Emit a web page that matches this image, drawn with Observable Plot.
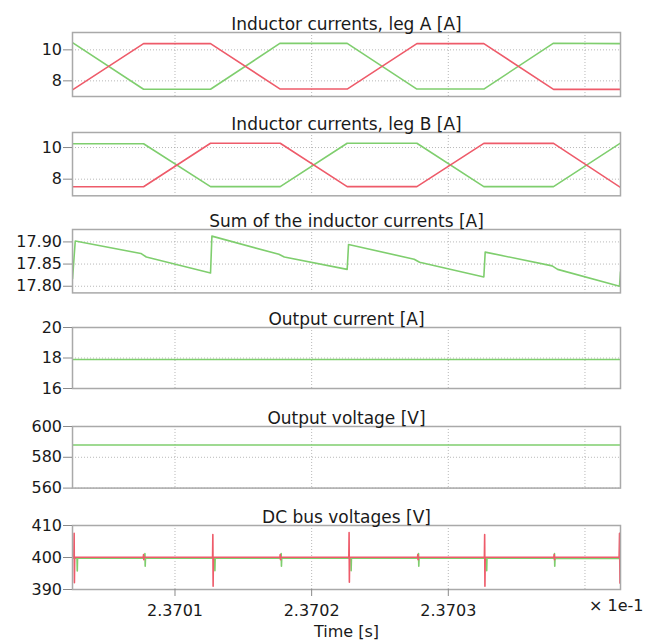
<!DOCTYPE html>
<html>
<head>
<meta charset="utf-8">
<script src="https://cdn.jsdelivr.net/npm/d3@7"></script>
<script src="https://cdn.jsdelivr.net/npm/@observablehq/plot@0.6"></script>
<style>
  html, body { margin: 0; padding: 0; background: #fff; }
  #chart { position: relative; width: 656px; height: 641px; overflow: hidden; background: #fff; }
  #chart svg { position: absolute; left: 0; overflow: visible; background: transparent; }
</style>
</head>
<body>
<div id="chart"></div>
<script>
// ---------- data ----------
const xDomain = [2.370025, 2.370426];
const xTicks = [2.3701, 2.3702, 2.3703, 2.3704];
const xTickLabels = ["2.3701", "2.3702", "2.3703", ""];

const titles = [
  "Inductor currents, leg A [A]",
  "Inductor currents, leg B [A]",
  "Sum of the inductor currents [A]",
  "Output current [A]",
  "Output voltage [V]",
  "DC bus voltages [V]"
];

// leg A / leg B inductor currents
const legTime = [2.370025, 2.370077, 2.370126, 2.370177, 2.370226, 2.370277, 2.370326, 2.370377, 2.370426];
const legAGreen = [10.47, 7.46, 7.46, 10.43, 10.42, 7.47, 7.47, 10.43, 10.40];
const legARed   = [7.42, 10.40, 10.40, 7.47, 7.47, 10.40, 10.40, 7.45, 7.45];
const legBGreen = [10.24, 10.24, 7.53, 7.53, 10.27, 10.27, 7.53, 7.53, 10.28];
const legBRed   = [7.52, 7.52, 10.27, 10.27, 7.53, 7.53, 10.26, 10.26, 7.48];

// sum of inductor currents
const sumTime = [2.370025, 2.370027, 2.370075, 2.370079, 2.370126, 2.370127, 2.370176, 2.370180,
                 2.370226, 2.370227, 2.370275, 2.370279, 2.370326, 2.370327, 2.370376, 2.370380,
                 2.3704253, 2.370426];
const sumValue = [17.817, 17.902, 17.874, 17.866, 17.830, 17.913, 17.872, 17.866,
                  17.838, 17.894, 17.861, 17.854, 17.821, 17.877, 17.846, 17.838,
                  17.800, 17.832];

// output current / voltage
const outTime = [2.370025, 2.370426];
const outCurrent = [17.9, 17.9];
const outVoltage = [588, 588];

// DC bus voltages
const busRedTime = [2.370025, 2.3700260, 2.3700262, 2.3700264, 2.3700266,
  2.3700768, 2.3700770, 2.3700772, 2.3700774,
  2.3701275, 2.3701277, 2.3701279, 2.3701281,
  2.3701768, 2.3701770, 2.3701772, 2.3701774,
  2.3702272, 2.3702274, 2.3702276, 2.3702278,
  2.3702775, 2.3702777, 2.3702779, 2.3702781,
  2.3703264, 2.3703266, 2.3703268, 2.3703270,
  2.3703773, 2.3703775, 2.3703777, 2.3703779,
  2.3704250, 2.3704253, 2.3704256, 2.370426];
const busRedValue = [400.1, 400.1, 407.6, 392.1, 400.1,
  400.1, 400.9, 399.3, 400.1,
  400.1, 407.2, 391.0, 400.1,
  400.1, 400.9, 399.3, 400.1,
  400.1, 407.8, 392.3, 400.1,
  400.1, 400.9, 399.3, 400.1,
  400.1, 407.2, 391.0, 400.1,
  400.1, 400.9, 399.3, 400.1,
  400.1, 407.6, 392.0, 396.0];
const busGreenTime = [2.370025, 2.3700283, 2.3700285, 2.3700287,
  2.3700778, 2.3700780, 2.3700782, 2.3700784,
  2.3701290, 2.3701292, 2.3701294,
  2.3701775, 2.3701777, 2.3701779, 2.3701781,
  2.3702287, 2.3702289, 2.3702291,
  2.3702780, 2.3702782, 2.3702784, 2.3702786,
  2.3703279, 2.3703281, 2.3703283,
  2.3703775, 2.3703777, 2.3703779, 2.3703781,
  2.370426];
const busGreenValue = [399.8, 399.8, 395.8, 399.8,
  399.8, 401.2, 397.3, 399.8,
  399.8, 395.9, 399.8,
  399.8, 401.2, 397.3, 399.8,
  399.8, 395.9, 399.8,
  399.8, 401.2, 397.3, 399.8,
  399.8, 395.9, 399.8,
  399.8, 401.2, 397.3, 399.8,
  399.7];

const yDomains = [[6.99, 11.12], [6.95, 10.95], [17.785, 17.928], [16, 20], [560, 600], [390, 410]];
const yTicks = [[8, 10], [8, 10], [17.80, 17.85, 17.90], [16, 18, 20], [560, 580, 600], [390, 400, 410]];
const frameTops = [31.7, 131.7, 229.3, 327.3, 425.7, 525];
const frameBottoms = [95.7, 195, 292.7, 388.3, 487.3, 589];

// ---------- drawing ----------
const GREEN = "#7fce6e";
const RED = "#ee5b6a";
const FONT = "DejaVu Sans, Verdana, sans-serif";

function toRows(t, v) { return t.map((x, i) => ({t: x, v: v[i]})); }

const panels = [
  [{t: legTime, v: legAGreen, c: GREEN}, {t: legTime, v: legARed, c: RED}],
  [{t: legTime, v: legBGreen, c: GREEN}, {t: legTime, v: legBRed, c: RED}],
  [{t: sumTime, v: sumValue, c: GREEN}],
  [{t: outTime, v: outCurrent, c: GREEN}],
  [{t: outTime, v: outVoltage, c: GREEN}],
  [{t: busGreenTime, v: busGreenValue, c: GREEN}, {t: busRedTime, v: busRedValue, c: RED}]
];

const chart = document.getElementById("chart");
const marginTop = 30;

panels.forEach((series, k) => {
  const last = k === panels.length - 1;
  const frameH = frameBottoms[k] - frameTops[k];
  const marginBottom = last ? 641 - frameBottoms[k] : 2;
  const fmt = k === 2 ? (d => d.toFixed(2)) : (d => String(d));
  const marks = [
    Plot.gridX(xTicks, {stroke: "#9a9a9a", strokeOpacity: 0.7, strokeDasharray: "1,2"}),
    Plot.gridY(yTicks[k], {stroke: "#9a9a9a", strokeOpacity: 0.7, strokeDasharray: "1,2"}),
    ...series.map(s => Plot.line(toRows(s.t, s.v), {x: "t", y: "v", stroke: s.c, strokeWidth: 1.6, clip: true})),
    Plot.frame({stroke: "#a9a9a9", strokeWidth: 1.5}),
    Plot.axisY(yTicks[k], {tickSize: 9, tickPadding: 1.5, tickFormat: fmt, fontSize: 16, stroke: "#8a8a8a", fill: "#1a1a1a", label: null}),
    Plot.text([titles[k]], {frameAnchor: "top", dy: -14.5, fontSize: 17, fill: "#1a1a1a"})
  ];
  if (last) {
    marks.push(
      Plot.axisX(xTicks.slice(0, 3), {tickSize: 7, tickPadding: 8, tickFormat: (d, i) => xTickLabels[i], fontSize: 16, stroke: "#8a8a8a", fill: "#1a1a1a", label: null}),
      Plot.text(["Time [s]"], {frameAnchor: "bottom", dy: 47, fontSize: 16, fill: "#1a1a1a"}),
      Plot.text(["× 1e-1"], {frameAnchor: "bottom-right", dx: 23, dy: 21, textAnchor: "end", fontSize: 16, fill: "#1a1a1a"})
    );
  }
  const svg = Plot.plot({
    width: 656,
    height: marginTop + frameH + marginBottom,
    marginTop,
    marginBottom,
    marginLeft: 72,
    marginRight: 36,
    style: {fontFamily: FONT, background: "transparent", overflow: "visible"},
    x: {domain: xDomain, axis: null, label: null},
    y: {domain: yDomains[k], axis: null, label: null},
    marks
  });
  svg.style.top = (frameTops[k] - marginTop) + "px";
  chart.appendChild(svg);
});
</script>
</body>
</html>
